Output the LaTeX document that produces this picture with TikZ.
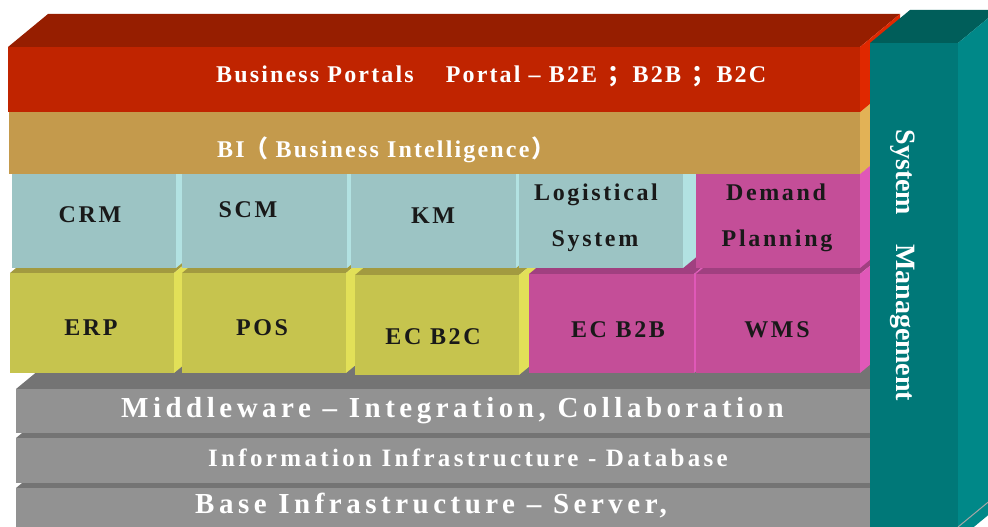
\documentclass[tikz,border=0pt]{standalone}
\usepackage{fontspec}
\setmainfont{Liberation Serif}
\newfontfamily\fportal[LetterSpace=9]{Liberation Serif}
\newfontfamily\fmid[LetterSpace=15.5]{Liberation Serif}
\newfontfamily\finfo[LetterSpace=13.3]{Liberation Serif}
\newfontfamily\fmod[LetterSpace=11]{Liberation Serif}
\newfontfamily\cjkfont{Noto Sans CJK SC}
\definecolor{cRed}{HTML}{C02400}
\definecolor{cRedTop}{HTML}{961E00}
\definecolor{cRedSide}{HTML}{E02800}
\definecolor{cBi}{HTML}{C49A4C}
\definecolor{cBiTop}{HTML}{A07830}
\definecolor{cBiSide}{HTML}{E2B256}
\definecolor{cBlue}{HTML}{9CC4C4}
\definecolor{cBlueTop}{HTML}{80A8A8}
\definecolor{cBlueSide}{HTML}{B2E2E2}
\definecolor{cMag}{HTML}{C44E98}
\definecolor{cMagTop}{HTML}{A04080}
\definecolor{cMagSide}{HTML}{E058B8}
\definecolor{cOlive}{HTML}{C6C44E}
\definecolor{cOliveTop}{HTML}{A29A40}
\definecolor{cOliveSide}{HTML}{E2E058}
\definecolor{cGrey}{HTML}{929292}
\definecolor{cGreyTop}{HTML}{747474}
\definecolor{cTeal}{HTML}{007878}
\definecolor{cTealTop}{HTML}{005E5A}
\definecolor{cTealSide}{HTML}{008888}
% 3D block: left, top, right, bottom, front, top face, side face
\newcommand\blk[7]{%
  \fill[#6] (#1,#2) -- ++(40,-33) -- (#3+40,#2-33) -- (#3,#2) -- cycle;
  \fill[#7] (#3,#2) -- ++(40,-33) -- (#3+40,#4-33) -- (#3,#4) -- cycle;
  \fill[#5] (#1,#2) rectangle (#3,#4);}
\begin{document}
\begin{tikzpicture}[x=1pt,y=-1pt,
  bandtxt/.style={text=white, anchor=base west, inner sep=0pt},
  modtxt/.style={text=black!90, anchor=base, inner sep=0pt,
    font=\fmod\bfseries\fontsize{24}{28}\selectfont}]
\clip (0,0) rectangle (988,527);
% infrastructure bands
\blk{16}{488}{870}{540}{cGrey}{cGreyTop}{cGreyTop}
\blk{16}{438}{870}{483}{cGrey}{cGreyTop}{cGreyTop}
\blk{16}{389}{870}{433}{cGrey}{cGreyTop}{cGreyTop}
% row 2
\blk{10}{273}{174}{373}{cOlive}{cOliveTop}{cOliveSide}
\blk{182}{273}{346}{373}{cOlive}{cOliveTop}{cOliveSide}
\blk{355}{275}{519}{375}{cOlive}{cOliveTop}{cOliveSide}
\blk{529}{274}{694}{373}{cMag}{cMagTop}{cMagSide}
\blk{696}{274}{860}{373}{cMag}{cMagTop}{cMagSide}
% row 1
\blk{12}{174}{176}{268}{cBlue}{cBlueTop}{cBlueSide}
\blk{182}{174}{347}{268}{cBlue}{cBlueTop}{cBlueSide}
\blk{351}{174}{516}{268}{cBlue}{cBlueTop}{cBlueSide}
\blk{519}{174}{683}{268}{cBlue}{cBlueTop}{cBlueSide}
\blk{696}{174}{860}{268}{cMag}{cMagTop}{cMagSide}
% BI and portal bands
\blk{9}{112}{860}{174}{cBi}{cBiTop}{cBiSide}
\blk{8}{47}{860}{112}{cRed}{cRedTop}{cRedSide}
% system management column
\blk{870}{43}{958}{540}{cTeal}{cTealTop}{cTealSide}
\draw[gray!70, line width=1pt] (958,527) -- (998,494);
% texts
\node[bandtxt, font=\fportal\bfseries\fontsize{24}{28}\selectfont] (portal) at (216,83)
  {Business Portals\hspace{32pt}Portal – B2E\hspace{10pt}{\cjkfont；}\hspace{1.5pt}B2B\hspace{10pt}{\cjkfont；}\hspace{1.5pt}B2C};
\node[bandtxt, font=\fportal\bfseries\fontsize{24}{28}\selectfont] (bi) at (217,157)
  {BI{\cjkfont（}\hspace{7pt}Business Intelligence\hspace{2pt}{\cjkfont）}};
\node[modtxt] (crm) at (90,222) {CRM};
\node[modtxt] (scm) at (248,217) {SCM};
\node[modtxt] (km) at (433,223) {KM};
\node[modtxt] (log1) at (596,200) {Logistical};
\node[modtxt] (log2) at (595,246) {System};
\node[modtxt] (dem1) at (776,200) {Demand};
\node[modtxt] (dem2) at (777,246) {Planning};
\node[modtxt] (erp) at (91,335) {ERP};
\node[modtxt] (pos) at (262,335) {POS};
\node[modtxt] (ecbtoc) at (433,344) {EC B2C};
\node[modtxt] (ecbtob) at (618,337) {EC B2B};
\node[modtxt] (wms) at (777,337) {WMS};
\node[bandtxt, font=\fmid\bfseries\fontsize{29}{34}\selectfont] (mid) at (121,417)
  {Middleware – Integration, Collaboration};
\node[bandtxt, font=\finfo\bfseries\fontsize{25}{30}\selectfont] (info) at (208,466)
  {Information Infrastructure - Database};
\node[bandtxt, font=\fmid\bfseries\fontsize{29}{34}\selectfont] (base) at (195,513)
  {Base Infrastructure – Server,};
\node[text=white, anchor=base, inner sep=0pt, rotate=-90,
  font=\bfseries\fontsize{28}{32}\selectfont] (sysm) at (896,265.5)
  {System\hspace{29pt}Management};
\end{tikzpicture}
\end{document}
